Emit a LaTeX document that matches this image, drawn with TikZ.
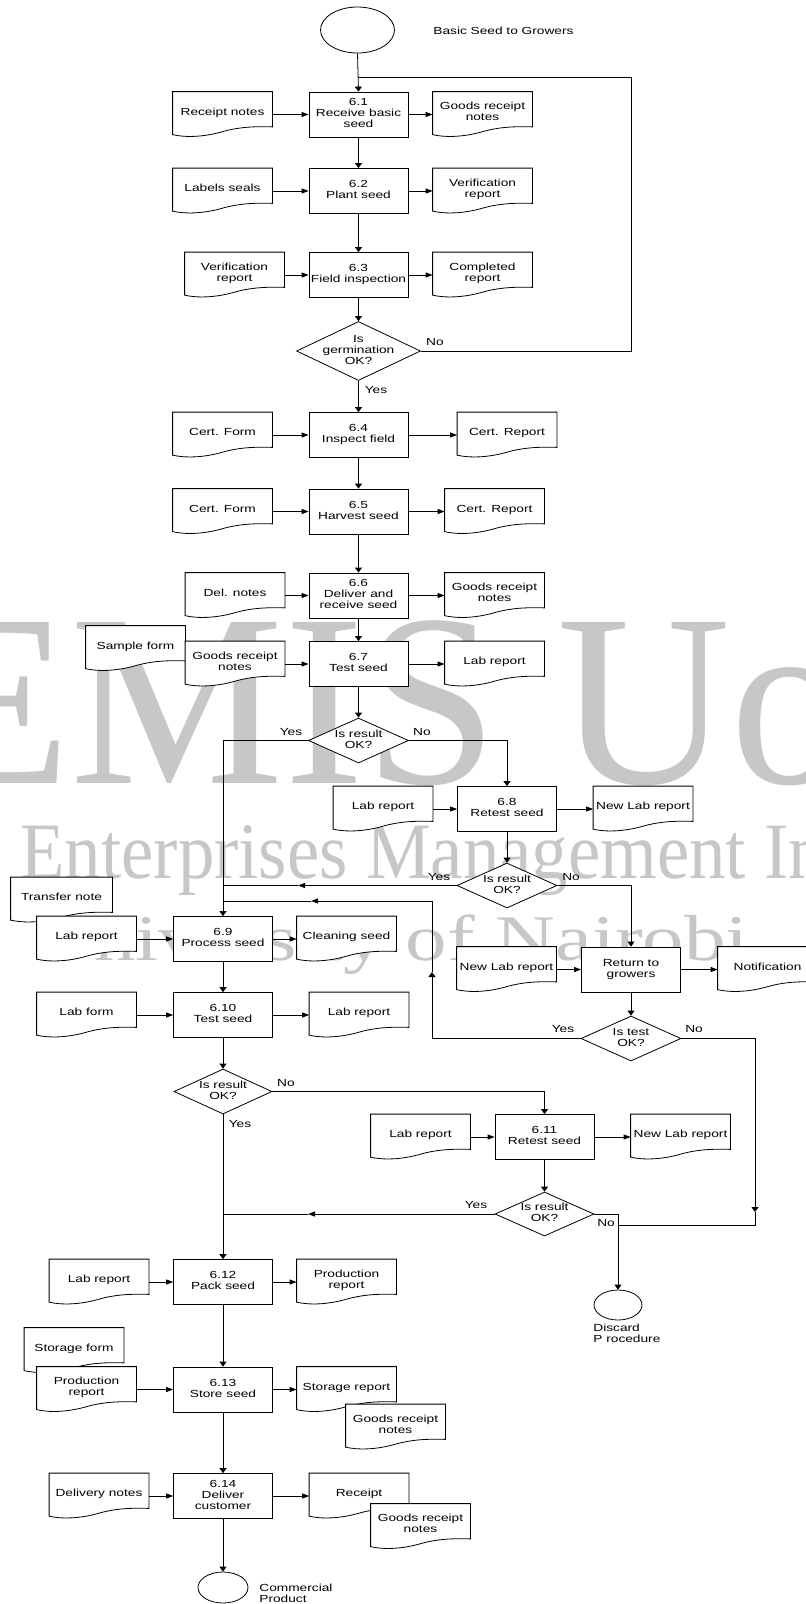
\documentclass[tikz,border=0pt]{standalone}
\usepackage{fontspec}
\setmainfont{Liberation Sans}[FakeStretch=1.33]
\newfontfamily\wmfont{Liberation Serif}
\usepackage{graphicx}
\usetikzlibrary{shapes.geometric,arrows.meta}

\makeatletter
\newdimen\wvxa \newdimen\wvya \newdimen\wvxb \newdimen\wvyb \newdimen\wvw \newdimen\wvh
\pgfdeclareshape{wavedoc}{
  \inheritsavedanchors[from=rectangle]
  \inheritanchorborder[from=rectangle]
  \inheritanchor[from=rectangle]{center}
  \inheritanchor[from=rectangle]{text}
  \inheritanchor[from=rectangle]{base}
  \inheritanchor[from=rectangle]{mid}
  \inheritanchor[from=rectangle]{north}
  \inheritanchor[from=rectangle]{south}
  \inheritanchor[from=rectangle]{east}
  \inheritanchor[from=rectangle]{west}
  \inheritanchor[from=rectangle]{north east}
  \inheritanchor[from=rectangle]{north west}
  \inheritanchor[from=rectangle]{south east}
  \inheritanchor[from=rectangle]{south west}
  \backgroundpath{
    \southwest \wvxa=\pgf@x \wvya=\pgf@y
    \northeast \wvxb=\pgf@x \wvyb=\pgf@y
    \wvw=\wvxb \advance\wvw by -\wvxa
    \wvh=\wvyb \advance\wvh by -\wvya
    \pgfpathmoveto{\pgfqpoint{\wvxa}{\wvyb}}
    \pgfpathlineto{\pgfqpoint{\wvxb}{\wvyb}}
    \pgfpathlineto{\pgfpoint{\wvxb}{\wvyb-0.77*\wvh}}
    \pgfpathcurveto{\pgfpoint{\wvxa+0.88*\wvw}{\wvyb-0.765*\wvh}}{\pgfpoint{\wvxa+0.7*\wvw}{\wvyb-0.75*\wvh}}{\pgfpoint{\wvxa+0.5*\wvw}{\wvyb-0.875*\wvh}}
    \pgfpathcurveto{\pgfpoint{\wvxa+0.3*\wvw}{\wvyb-1.0*\wvh}}{\pgfpoint{\wvxa+0.12*\wvw}{\wvyb-1.0*\wvh}}{\pgfpoint{\wvxa}{\wvyb-0.94*\wvh}}
    \pgfpathclose
  }
}
\makeatother

\newcommand\ctr[1]{\makebox[0pt]{\raisebox{-2.6pt}[0pt][0pt]{\begin{tabular}{@{}c@{}}#1\end{tabular}}}}
\newcommand\dtx[1]{\makebox[0pt]{\raisebox{-1.0pt}[0pt][0pt]{\begin{tabular}{@{}c@{}}#1\end{tabular}}}}

\tikzset{
  proc/.style={draw, fill=white, rectangle, minimum width=99pt, minimum height=45pt, inner sep=0pt},
  docn/.style={draw, fill=white, shape=wavedoc, minimum width=99pt, minimum height=45pt, inner sep=0pt},
  dec/.style={draw, fill=white, diamond, inner sep=0pt, minimum width=100pt, minimum height=45pt},
  term/.style={draw, fill=white, ellipse, inner sep=0pt},
  lbl/.style={inner sep=0pt},
  wm/.style={inner sep=0pt, text=black!22},
  harr/.style={-{Triangle[length=7pt,width=5pt]}},
  varr/.style={-{Triangle[length=5pt,width=7pt]}}
}

\begin{document}
\begin{tikzpicture}[x=1pt,y=-1pt,font=\fontsize{10.3}{10.8}\selectfont,line width=0.8pt]
\useasboundingbox (0,0) rectangle (806,1604);
\fill[white] (0,0) rectangle (806,1604);

% watermark
\begin{scope}
\clip (0,0) rectangle (806,1604);
\node[wm, anchor=base west] (wm1) at (-76,783) {\scalebox{0.975}[1]{\fontsize{246}{246}\wmfont EMIS Uo}};
\node[wm, anchor=base west] (wm2) at (20,878) {\scalebox{0.91}[1]{\fontsize{80}{80}\wmfont Enterprises Management In}};
\node[wm, anchor=base west] (wm3) at (34,960) {\scalebox{1.277}[1]{\fontsize{65}{65}\wmfont University of Nairobi}};
\end{scope}

% terminals and texts
\node[term, minimum width=74pt, minimum height=46pt] (start) at (357.5,30) {};
\node[lbl, anchor=west] (tBasic) at (433,31) {Basic Seed to Growers};

% process column
\node[proc] (b61) at (358.5,114.5) {\ctr{6.1\\Receive basic\\seed}};
\node[proc] (b62) at (358.5,191) {\ctr{6.2\\Plant seed}};
\node[proc] (b63) at (358.5,275) {\ctr{6.3\\Field inspection}};
\node[dec, minimum width=124pt, minimum height=59pt] (dg1) at (358.5,351) {\ctr{Is\\germination\\OK?}};
\node[proc] (b64) at (358.5,435) {\ctr{6.4\\Inspect field}};
\node[proc] (b65) at (358.5,511.5) {\ctr{6.5\\Harvest seed}};
\node[proc] (b66) at (358.5,595.5) {\ctr{6.6\\Deliver and\\receive seed}};
\node[proc] (b67) at (358.5,664) {\ctr{6.7\\Test seed}};
\node[dec] (d1) at (358.5,740.5) {\ctr{Is result\\OK?}};
\node[proc] (b68) at (507,809) {\ctr{6.8\\Retest seed}};
\node[dec] (d2) at (507,885.5) {\ctr{Is result\\OK?}};
\node[proc] (b69) at (223,939) {\ctr{6.9\\Process seed}};
\node[proc] (ret) at (631,969.5) {\ctr{Return to\\growers}};
\node[dec] (dt) at (631,1038.5) {\ctr{Is test\\OK?}};
\node[proc] (b610) at (223,1015) {\ctr{6.10\\Test seed}};
\node[dec, minimum width=98pt] (d3) at (223,1091.5) {\ctr{Is result\\OK?}};
\node[proc] (b611) at (544.5,1137) {\ctr{6.11\\Retest seed}};
\node[dec, minimum width=99pt, minimum height=44pt] (d4) at (544.5,1214) {\ctr{Is result\\OK?}};
\node[term, minimum width=48pt, minimum height=30pt] (disc) at (618,1305) {};
\node[lbl, anchor=west, align=left] (tDisc) at (593,1333.5) {Discard\\P rocedure};
\node[proc] (b612) at (223,1282) {\ctr{6.12\\Pack seed}};
\node[proc] (b613) at (223,1389.5) {\ctr{6.13\\Store seed}};
\node[proc] (b614) at (223,1496) {\ctr{6.14\\Deliver\\customer}};
\node[term, minimum width=50pt, minimum height=31pt] (comm) at (223,1587.5) {};
\node[lbl, anchor=west, align=left] (tComm) at (259,1593) {Commercial\\Product};

% documents
\node[docn] (dRN) at (222.5,114.5) {\dtx{Receipt notes}};
\node[docn] (dGR1) at (482.5,114.5) {\dtx{Goods receipt\\notes}};
\node[docn] (dLS) at (222.5,191) {\dtx{Labels seals}};
\node[docn] (dVR1) at (482.5,191) {\dtx{Verification\\report}};
\node[docn] (dVR2) at (234.5,275) {\dtx{Verification\\report}};
\node[docn] (dCR) at (482.5,275) {\dtx{Completed\\report}};
\node[docn] (dCF1) at (222.5,435) {\dtx{Cert. Form}};
\node[docn] (dCP1) at (507,435) {\dtx{Cert. Report}};
\node[docn] (dCF2) at (222.5,511.5) {\dtx{Cert. Form}};
\node[docn] (dCP2) at (494.5,511.5) {\dtx{Cert. Report}};
\node[docn] (dDN) at (235,595.5) {\dtx{Del. notes}};
\node[docn] (dGR2) at (494.5,595.5) {\dtx{Goods receipt\\notes}};
\node[docn] (dSF) at (135.5,648.5) {\dtx{Sample form}};
\node[docn] (dGR3) at (235,664) {\dtx{Goods receipt\\notes}};
\node[docn] (dLR1) at (494.5,664) {\dtx{Lab report}};
\node[docn] (dLR2) at (383,809) {\dtx{Lab report}};
\node[docn] (dNL1) at (643,809) {\dtx{New Lab report}};
\node[docn, minimum width=101pt] (dTN) at (61.5,900) {\dtx{Transfer note}};
\node[docn] (dLR3) at (86.5,939) {\dtx{Lab report}};
\node[docn] (dCS) at (346.5,939) {\dtx{Cleaning seed}};
\node[docn] (dNL2) at (506.5,969.5) {\dtx{New Lab report}};
\node[docn] (dNot) at (767.5,969.5) {\dtx{Notification}};
\node[docn] (dLF) at (86.5,1015) {\dtx{Lab form}};
\node[docn] (dLR4) at (359,1015) {\dtx{Lab report}};
\node[docn] (dLR5) at (420.5,1137) {\dtx{Lab report}};
\node[docn] (dNL3) at (680.5,1137) {\dtx{New Lab report}};
\node[docn] (dLR6) at (99,1282) {\dtx{Lab report}};
\node[docn] (dPR1) at (346.5,1282) {\dtx{Production\\report}};
\node[docn] (dSTF) at (74,1350.5) {\dtx{Storage form}};
\node[docn] (dPR2) at (86.5,1389.5) {\dtx{Production\\report}};
\node[docn] (dSR) at (346.5,1389.5) {\dtx{Storage report}};
\node[docn] (dGR4) at (395.5,1427) {\dtx{Goods receipt\\notes}};
\node[docn] (dDel) at (99,1496) {\dtx{Delivery notes}};
\node[docn] (dRec) at (359,1496) {\dtx{Receipt}};
\node[docn] (dGR5) at (420.5,1526.5) {\dtx{Goods receipt\\notes}};

% labels
\node[lbl] (ly1) at (376,390) {Yes};
\node[lbl] (ln1) at (435,342) {No};
\node[lbl] (ly2) at (291,732) {Yes};
\node[lbl] (ln2) at (422,732) {No};
\node[lbl] (ly3) at (439,877) {Yes};
\node[lbl] (ln3) at (571,877) {No};
\node[lbl] (ly4) at (563,1029) {Yes};
\node[lbl] (ln4) at (694,1029) {No};
\node[lbl] (ln5) at (286,1083) {No};
\node[lbl] (ly5) at (240,1124) {Yes};
\node[lbl] (ly6) at (476,1205) {Yes};
\node[lbl] (ln6) at (606,1223) {No};

% coordinates
\coordinate (lpTR) at (631,77);
\coordinate (lpTL) at (358.5,77);
\coordinate (a2) at (298,885.5);
\coordinate (j2) at (223,885.5);
\coordinate (c1) at (432,972);
\coordinate (c2) at (311,901);
\coordinate (c3) at (223,901);
\coordinate (e1) at (755,1212);
\coordinate (e2) at (618,1225);
\coordinate (a4) at (308,1214);
\coordinate (j4) at (223,1214);

% vertical flow
\draw[varr] (start.south) -- (b61.north);
\draw (dg1.east) -| (lpTR) -- (lpTL);
\draw[varr] (b61.south) -- (b62.north);
\draw[varr] (b62.south) -- (b63.north);
\draw[varr] (b63.south) -- (dg1.north);
\draw[varr] (dg1.south) -- (b64.north);
\draw[varr] (b64.south) -- (b65.north);
\draw[varr] (b65.south) -- (b66.north);
\draw[varr] (b66.south) -- (b67.north);
\draw[varr] (b67.south) -- (d1.north);
\draw[varr] (d1.west) -| (b69.north);
\draw[varr] (d1.east) -| (b68.north);
\draw[varr] (b68.south) -- (d2.north);
\draw[harr] (d2.west) -- (a2);
\draw (a2) -- (j2);
\draw[varr] (d2.east) -| (ret.north);
\draw[varr] (ret.south) -- (dt.north);
\draw[varr] (dt.west) -| (c1);
\draw[harr] (c1) |- (c2);
\draw (c2) -- (c3);
\draw[varr] (dt.east) -| (e1);
\draw (e1) |- (e2);
\draw[varr] (b69.south) -- (b610.north);
\draw[varr] (b610.south) -- (d3.north);
\draw[varr] (d3.east) -| (b611.north);
\draw[varr] (d3.south) -- (b612.north);
\draw[varr] (b611.south) -- (d4.north);
\draw[harr] (d4.west) -- (a4);
\draw (a4) -- (j4);
\draw[varr] (d4.east) -| (disc.north);
\draw[varr] (b612.south) -- (b613.north);
\draw[varr] (b613.south) -- (b614.north);
\draw[varr] (b614.south) -- (comm.north);

% document arrows
\draw[harr] (dRN.east) -- (b61.west);
\draw[harr] (b61.east) -- (dGR1.west);
\draw[harr] (dLS.east) -- (b62.west);
\draw[harr] (b62.east) -- (dVR1.west);
\draw[harr] (dVR2.east) -- (b63.west);
\draw[harr] (b63.east) -- (dCR.west);
\draw[harr] (dCF1.east) -- (b64.west);
\draw[harr] (b64.east) -- (dCP1.west);
\draw[harr] (dCF2.east) -- (b65.west);
\draw[harr] (b65.east) -- (dCP2.west);
\draw[harr] (dDN.east) -- (b66.west);
\draw[harr] (b66.east) -- (dGR2.west);
\draw[harr] (dGR3.east) -- (b67.west);
\draw[harr] (b67.east) -- (dLR1.west);
\draw[harr] (dLR2.east) -- (b68.west);
\draw[harr] (b68.east) -- (dNL1.west);
\draw[harr] (dLR3.east) -- (b69.west);
\draw[harr] (b69.east) -- (dCS.west);
\draw[harr] (dNL2.east) -- (ret.west);
\draw[harr] (ret.east) -- (dNot.west);
\draw[harr] (dLF.east) -- (b610.west);
\draw[harr] (b610.east) -- (dLR4.west);
\draw[harr] (dLR5.east) -- (b611.west);
\draw[harr] (b611.east) -- (dNL3.west);
\draw[harr] (dLR6.east) -- (b612.west);
\draw[harr] (b612.east) -- (dPR1.west);
\draw[harr] (dPR2.east) -- (b613.west);
\draw[harr] (b613.east) -- (dSR.west);
\draw[harr] (dDel.east) -- (b614.west);
\draw[harr] (b614.east) -- (dRec.west);
\end{tikzpicture}
\end{document}
